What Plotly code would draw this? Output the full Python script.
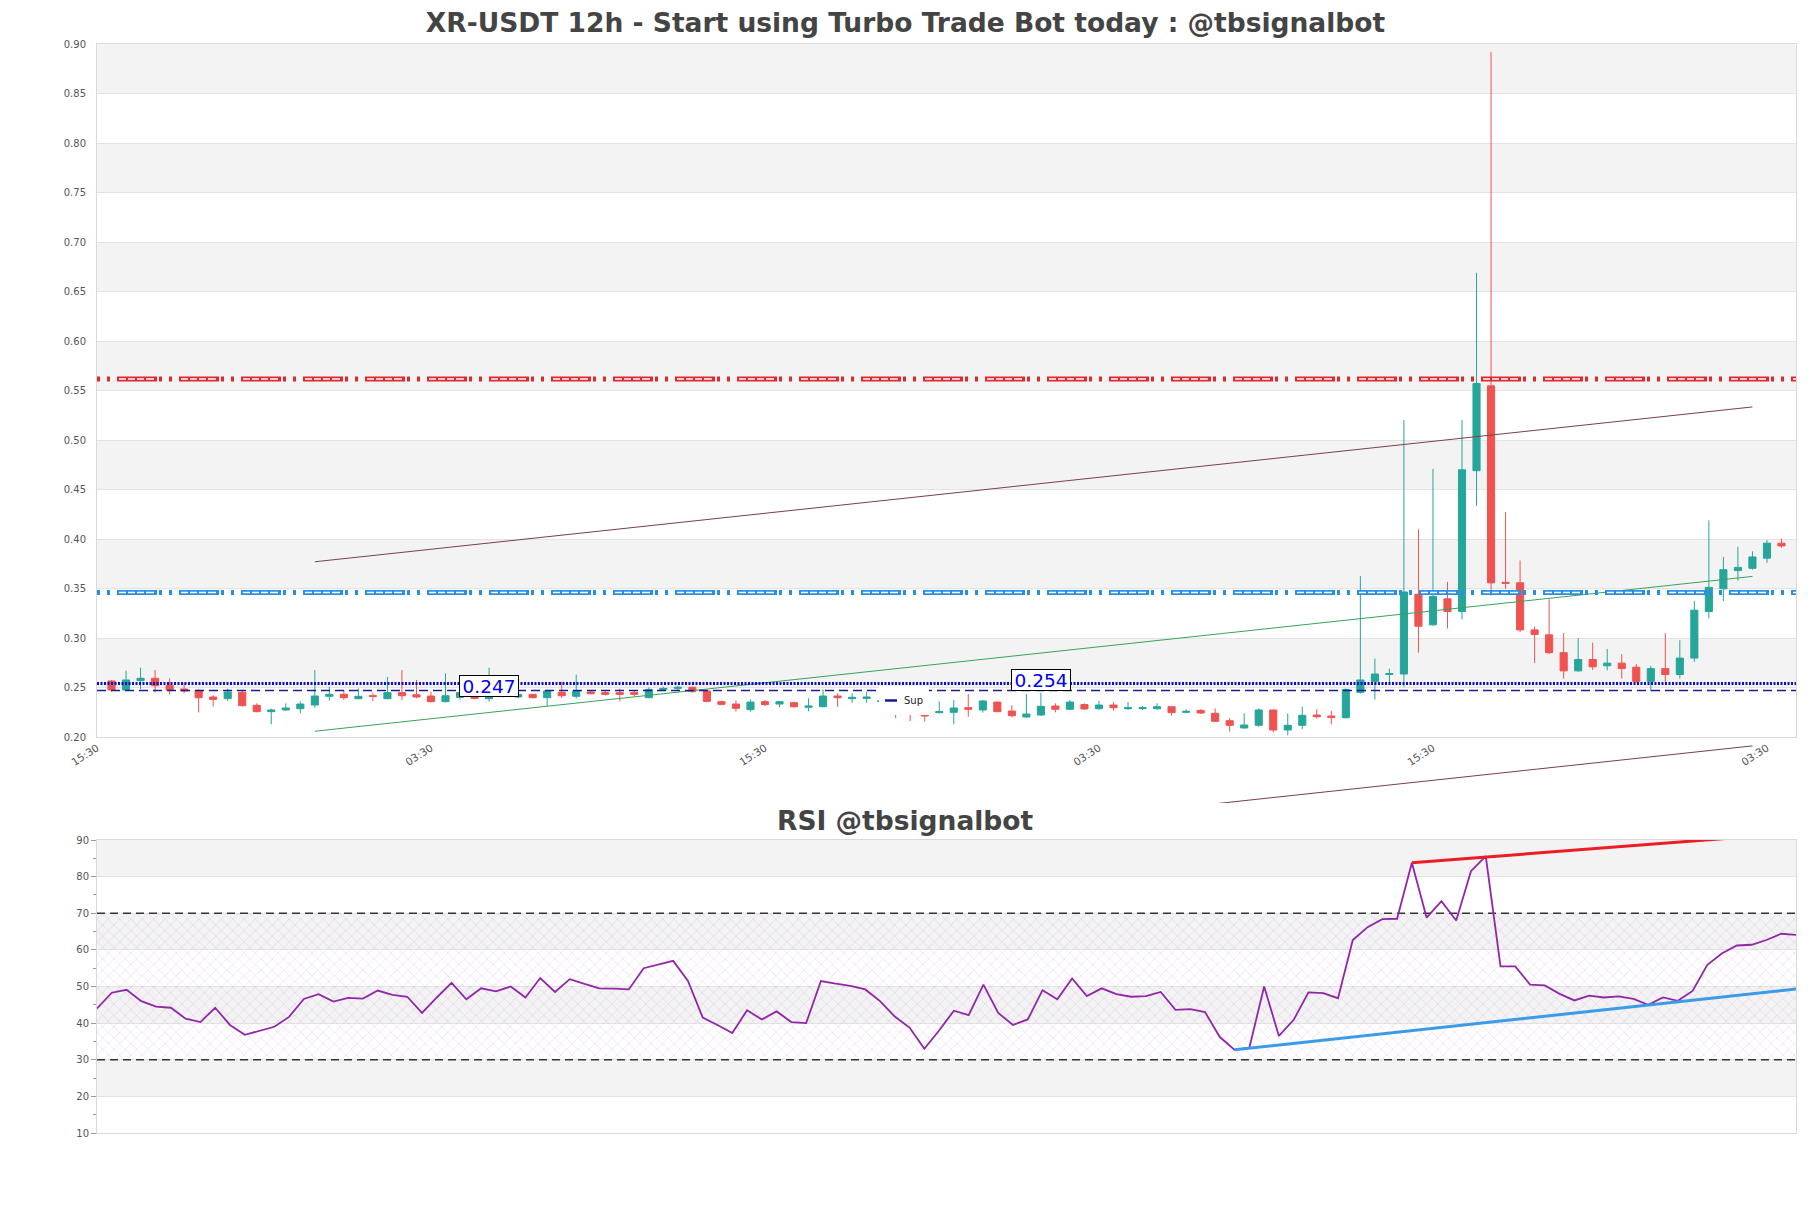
import plotly.graph_objects as go
import pandas as pd

TITLE = "XR-USDT 12h - Start using Turbo Trade Bot today : @tbsignalbot"
RSI_TITLE = "RSI @tbsignalbot"

# ---- candle times (12h candles) ----
CANDLE_START = "2024-03-02 03:30"
N_CANDLES = 116
X_RANGE = ["2024-03-01 15:30", "2024-04-29 03:30"]
X_TICKS = ["2024-03-01 15:30", "2024-03-13 03:30", "2024-03-24 15:30",
           "2024-04-05 03:30", "2024-04-16 15:30", "2024-04-28 03:30"]

OPEN = [0.2566, 0.2475, 0.2569, 0.2593, 0.2522, 0.2485, 0.2471, 0.2404, 0.2387, 0.2451,
        0.2320, 0.2256, 0.2273, 0.2286, 0.2323, 0.2411, 0.2431, 0.2387, 0.2417, 0.2387,
        0.2448, 0.2427, 0.2414, 0.2357, 0.2400, 0.2410, 0.2387, 0.2431, 0.2404, 0.2431,
        0.2397, 0.2451, 0.2411, 0.2454, 0.2448, 0.2448, 0.2448, 0.2397, 0.2478, 0.2491,
        0.2502, 0.2465, 0.2357, 0.2333, 0.2276, 0.2357, 0.2333, 0.2347, 0.2300, 0.2306,
        0.2414, 0.2387, 0.2390, 0.2360, 0.2360, 0.2330, 0.2320, 0.2246, 0.2249, 0.2296,
        0.2273, 0.2353, 0.2262, 0.2202, 0.2222, 0.2313, 0.2280, 0.2327, 0.2286, 0.2323,
        0.2286, 0.2286, 0.2286, 0.2306, 0.2249, 0.2269, 0.2239, 0.2165, 0.2091, 0.2118,
        0.2273, 0.2071, 0.2118, 0.2222, 0.2212, 0.2195, 0.2451, 0.2562, 0.2631, 0.2636,
        0.3442, 0.3133, 0.3396, 0.3267, 0.4690, 0.5547, 0.3562, 0.3557, 0.3082, 0.3032,
        0.2852, 0.2668, 0.2783, 0.2719, 0.2746, 0.2705, 0.2562, 0.2691, 0.2631, 0.2797,
        0.3267, 0.3497, 0.3681, 0.3704, 0.3806, 0.3958]
HIGH = [0.2576, 0.2670, 0.2700, 0.2677, 0.2593, 0.2549, 0.2481, 0.2421, 0.2488, 0.2464,
        0.2340, 0.2286, 0.2340, 0.2360, 0.2677, 0.2508, 0.2475, 0.2491, 0.2448, 0.2606,
        0.2677, 0.2576, 0.2458, 0.2643, 0.2490, 0.2440, 0.2700, 0.2460, 0.2448, 0.2431,
        0.2471, 0.2559, 0.2630, 0.2465, 0.2465, 0.2488, 0.2465, 0.2502, 0.2508, 0.2518,
        0.2508, 0.2475, 0.2367, 0.2367, 0.2380, 0.2374, 0.2364, 0.2357, 0.2391, 0.2481,
        0.2441, 0.2441, 0.2458, 0.2367, 0.2370, 0.2335, 0.2325, 0.2360, 0.2374, 0.2434,
        0.2374, 0.2353, 0.2320, 0.2434, 0.2448, 0.2340, 0.2374, 0.2340, 0.2364, 0.2353,
        0.2353, 0.2313, 0.2340, 0.2306, 0.2279, 0.2279, 0.2289, 0.2192, 0.2239, 0.2289,
        0.2273, 0.2239, 0.2306, 0.2279, 0.2262, 0.2491, 0.3626, 0.2792, 0.2691, 0.5201,
        0.4096, 0.4708, 0.3566, 0.5201, 0.6689, 0.8918, 0.4271, 0.3783, 0.3115, 0.3391,
        0.3050, 0.3000, 0.2953, 0.2889, 0.2838, 0.2737, 0.2719, 0.3050, 0.2977, 0.3373,
        0.4188, 0.3819, 0.3921, 0.3875, 0.3990, 0.4004]
LOW = [0.2458, 0.2468, 0.2485, 0.2451, 0.2431, 0.2441, 0.2249, 0.2306, 0.2364, 0.2306,
       0.2249, 0.2128, 0.2266, 0.2239, 0.2296, 0.2367, 0.2374, 0.2380, 0.2364, 0.2380,
       0.2374, 0.2391, 0.2350, 0.2350, 0.2380, 0.2380, 0.2357, 0.2400, 0.2390, 0.2391,
       0.2313, 0.2394, 0.2387, 0.2431, 0.2421, 0.2360, 0.2411, 0.2391, 0.2465, 0.2475,
       0.2448, 0.2350, 0.2320, 0.2256, 0.2256, 0.2313, 0.2300, 0.2296, 0.2259, 0.2300,
       0.2306, 0.2347, 0.2347, 0.2357, 0.2190, 0.2162, 0.2155, 0.2239, 0.2128, 0.2205,
       0.2246, 0.2256, 0.2199, 0.2195, 0.2212, 0.2249, 0.2273, 0.2273, 0.2273, 0.2266,
       0.2273, 0.2273, 0.2273, 0.2215, 0.2239, 0.2232, 0.2158, 0.2054, 0.2084, 0.2104,
       0.2047, 0.2017, 0.2081, 0.2185, 0.2128, 0.2185, 0.2438, 0.2378, 0.2553, 0.2507,
       0.2852, 0.3124, 0.3096, 0.3188, 0.4335, 0.3428, 0.3497, 0.3059, 0.2746, 0.2838,
       0.2590, 0.2659, 0.2677, 0.2672, 0.2590, 0.2544, 0.2461, 0.2553, 0.2590, 0.2760,
       0.3198, 0.3373, 0.3580, 0.3690, 0.3760, 0.3912]
CLOSE = [0.2475, 0.2576, 0.2593, 0.2518, 0.2475, 0.2465, 0.2397, 0.2380, 0.2454, 0.2317,
         0.2256, 0.2273, 0.2293, 0.2333, 0.2414, 0.2431, 0.2397, 0.2411, 0.2411, 0.2448,
         0.2417, 0.2404, 0.2357, 0.2417, 0.2450, 0.2390, 0.2404, 0.2417, 0.2431, 0.2397,
         0.2465, 0.2417, 0.2465, 0.2437, 0.2431, 0.2431, 0.2431, 0.2481, 0.2491, 0.2502,
         0.2458, 0.2360, 0.2330, 0.2290, 0.2353, 0.2327, 0.2357, 0.2306, 0.2313, 0.2414,
         0.2397, 0.2401, 0.2404, 0.2364, 0.2345, 0.2273, 0.2212, 0.2256, 0.2293, 0.2280,
         0.2364, 0.2256, 0.2215, 0.2232, 0.2310, 0.2280, 0.2353, 0.2283, 0.2323, 0.2296,
         0.2296, 0.2296, 0.2306, 0.2246, 0.2259, 0.2242, 0.2158, 0.2118, 0.2121, 0.2273,
         0.2071, 0.2118, 0.2219, 0.2205, 0.2199, 0.2481, 0.2576, 0.2636, 0.2641, 0.3465,
         0.3119, 0.3419, 0.3267, 0.4699, 0.5570, 0.3557, 0.3552, 0.3082, 0.3036, 0.2852,
         0.2668, 0.2783, 0.2709, 0.2746, 0.2691, 0.2562, 0.2691, 0.2631, 0.2797, 0.3281,
         0.3511, 0.3690, 0.3713, 0.3819, 0.3958, 0.3930]

RSI = [44.0, 48.3, 49.1, 46.0, 44.5, 44.2, 41.2, 40.3, 44.2, 39.5,
       36.8, 37.9, 39.0, 41.7, 46.6, 47.9, 45.9, 46.9, 46.7, 48.9,
       47.7, 47.2, 42.8, 47.0, 51.0, 46.5, 49.5, 48.7, 50.0, 47.0,
       52.3, 48.5, 52.0, 50.7, 49.5, 49.4, 49.2, 55.0, 56.0, 57.0,
       51.5, 41.5, 39.5, 37.3, 43.5, 41.0, 43.2, 40.3, 40.0, 51.5,
       50.8, 50.2, 49.2, 46.0, 41.8, 38.8, 33.0, 38.0, 43.4, 42.2,
       50.5, 42.8, 39.5, 41.0, 49.0, 46.5, 52.2, 47.4, 49.5, 47.9,
       47.2, 47.4, 48.5, 43.6, 43.8, 43.0, 36.2, 32.7, 33.3, 50.0,
       36.5, 40.9, 48.4, 48.2, 46.8, 62.7, 66.2, 68.4, 68.5, 83.8,
       68.8, 73.3, 68.0, 81.5, 85.6, 55.5, 55.5, 50.5, 50.3, 48.0,
       46.2, 47.5, 47.0, 47.3, 46.6, 45.0, 47.0, 46.1, 48.8, 55.9,
       59.1, 61.2, 61.4, 62.7, 64.4, 64.1]

# price levels
RESISTANCE = 0.5616
SUPPORT_HI = 0.346
LEVEL_DOT = 0.254
LEVEL_SUP = 0.247
LABEL_IDX = [26, 64]          # candle index of the level labels

# regression channel (candle index, mid value) + half width
CH_IDX = [14, 113]
CH_MID = [0.2058, 0.3622]
CH_HALF = 0.1712

# RSI trend lines (RSI index, value)
RSI_SUP_IDX = [77, 115]
RSI_SUP_VAL = [32.7, 49.3]
RSI_RES_IDX = [89, 115]
RSI_RES_VAL = [83.8, 91.9]
RSI_BOUNDS = [30, 70]

MAIN_TICKS = [0.20, 0.25, 0.30, 0.35, 0.40, 0.45, 0.50, 0.55, 0.60, 0.65, 0.70, 0.75, 0.80, 0.85, 0.90]
RSI_TICKS = [10, 20, 30, 40, 50, 60, 70, 80, 90]

times = pd.date_range(CANDLE_START, periods=N_CANDLES, freq="12h")

FONT = "DejaVu Sans"
UP = "#26a69a"
DN = "#ef5350"
BAND = "#f3f3f3"
GRID = "#e3e3e3"
AXLINE = "#d9d9d9"
TICKC = "#555555"

# layout geometry
MAIN_DOM = [0.36364, 1.0]
RSI_DOM = [0.0, 0.26905]
GAP_DOM = [0.30303, 0.36364]
main_rng = [MAIN_TICKS[0], MAIN_TICKS[-1]]
scale = (main_rng[1] - main_rng[0]) / (MAIN_DOM[1] - MAIN_DOM[0])
gap_rng = [main_rng[0] - (GAP_DOM[1] - GAP_DOM[0]) * scale, main_rng[0]]

fig = go.Figure()

fig.add_trace(go.Candlestick(
    x=times, open=OPEN, high=HIGH, low=LOW, close=CLOSE,
    increasing=dict(line=dict(color=UP, width=1), fillcolor=UP),
    decreasing=dict(line=dict(color=DN, width=1), fillcolor=DN),
    whiskerwidth=0, showlegend=False, xaxis="x", yaxis="y"))

# channel lines
ch_x = [times[i] for i in CH_IDX]
fig.add_trace(go.Scatter(x=ch_x, y=[v + CH_HALF for v in CH_MID], mode="lines",
                         line=dict(color="#7b3f4a", width=1), showlegend=False))
fig.add_trace(go.Scatter(x=ch_x, y=CH_MID, mode="lines",
                         line=dict(color="#3aa35a", width=1), showlegend=False))
fig.add_trace(go.Scatter(x=ch_x, y=[v - CH_HALF for v in CH_MID], mode="lines",
                         line=dict(color="#7b3f4a", width=1), showlegend=False,
                         xaxis="x3", yaxis="y3"))

# horizontal levels
def hline(y, color, width, dash, name=None, legend=False):
    fig.add_trace(go.Scatter(x=X_RANGE, y=[y, y], mode="lines",
                             line=dict(color=color, width=width, dash=dash),
                             name=name, showlegend=legend, hoverinfo="skip"))

OUTER = "3px,7px,3px,7px,40px,2px"                     # period 62
INNER = "0px,22px,7px,2px,7px,2px,7px,2px,8px,5px"     # period 62
hline(RESISTANCE, "#e0282e", 5, OUTER)
hline(RESISTANCE, "white", 1.5, INNER)
hline(SUPPORT_HI, "#2a8fe0", 5, OUTER)
hline(SUPPORT_HI, "white", 1.5, INNER)
hline(LEVEL_DOT, "#0a0ad0", 3, "2px,1.5px")
hline(LEVEL_SUP, "#1a1a9a", 1.5, "9px,5px")
# legend-only entry
fig.add_trace(go.Scatter(x=[None], y=[None], mode="lines", name="Sup",
                         line=dict(color="#1a1a9a", width=2.5, dash="0px,16px,12px,100px"),
                         showlegend=True))

# RSI
fig.add_trace(go.Scatter(x=[times[0], times[-1]], y=[RSI_BOUNDS[1]] * 2, mode="lines",
                         line=dict(color="#333", width=1.3, dash="8px,5px"),
                         showlegend=False, xaxis="x2", yaxis="y2"))
fig.add_trace(go.Scatter(x=[times[0], times[-1]], y=[RSI_BOUNDS[0]] * 2, mode="lines",
                         line=dict(color="#333", width=1.3, dash="8px,5px"),
                         fill="tonexty", fillcolor="rgba(215,180,235,0.16)",
                         fillpattern=dict(shape="x", fgcolor="rgba(170,110,200,0.75)",
                                          bgcolor="rgba(0,0,0,0)", size=8, solidity=0.1),
                         showlegend=False, xaxis="x2", yaxis="y2"))
fig.add_trace(go.Scatter(x=times, y=RSI, mode="lines",
                         line=dict(color="#9127a8", width=1.8),
                         showlegend=False, xaxis="x2", yaxis="y2"))
fig.add_trace(go.Scatter(x=[times[i] for i in RSI_SUP_IDX], y=RSI_SUP_VAL, mode="lines",
                         line=dict(color="#3c9be8", width=3), showlegend=False,
                         xaxis="x2", yaxis="y2"))
fig.add_trace(go.Scatter(x=[times[i] for i in RSI_RES_IDX], y=RSI_RES_VAL, mode="lines",
                         line=dict(color="#ee1c24", width=3), showlegend=False,
                         xaxis="x2", yaxis="y2"))

# bands
shapes = []
for i in range(1, len(MAIN_TICKS) - 1, 2):
    shapes.append(dict(type="rect", xref="x domain", yref="y", x0=0, x1=1,
                       y0=MAIN_TICKS[i], y1=MAIN_TICKS[i + 1], fillcolor=BAND,
                       line=dict(width=0), layer="below"))
for i in range(1, len(RSI_TICKS) - 1, 2):
    shapes.append(dict(type="rect", xref="x2 domain", yref="y2", x0=0, x1=1,
                       y0=RSI_TICKS[i], y1=RSI_TICKS[i + 1], fillcolor=BAND,
                       line=dict(width=0), layer="below"))

annotations = []
for idx, lvl in zip(LABEL_IDX, [LEVEL_SUP, LEVEL_DOT]):
    annotations.append(dict(x=times[idx], y=lvl, xref="x", yref="y", text=f"{lvl:.3f}",
                            showarrow=False, yshift=4, width=58, height=20,
                            font=dict(family=FONT, size=18.5, color="#0000ee"),
                            bgcolor="white", bordercolor="black", borderwidth=1, borderpad=0))
annotations.append(dict(x=(1811 / 2 - 97) / 1699, y=0.2874, xref="paper", yref="paper",
                        text=RSI_TITLE, showarrow=False, yanchor="middle",
                        font=dict(family=FONT, size=26.5, color="#444444", weight="bold")))

fig.update_layout(
    width=1811, height=1208,
    margin=dict(l=97, r=15, t=44, b=75),
    paper_bgcolor="white", plot_bgcolor="white",
    font=dict(family=FONT, size=10, color=TICKC),
    title=dict(text=TITLE, x=0.5, xanchor="center", y=1 - 23 / 1208, yanchor="middle",
               font=dict(family=FONT, size=26.5, color="#444444", weight="bold")),
    shapes=shapes, annotations=annotations,
    legend=dict(x=(879 - 97) / 1699, y=(1133 - 686) / 1089, xanchor="left", yanchor="top",
                bgcolor="white", indentation=-15,
                font=dict(family=FONT, size=10, color="#222"), borderwidth=0,
                tracegroupgap=0, itemwidth=30),
    xaxis=dict(domain=[0, 1], anchor="y", type="date", range=X_RANGE,
               tickvals=X_TICKS, tickformat="%H:%M", tickangle=-33,
               showgrid=False, showline=True, mirror=True, linecolor=AXLINE,
               ticks="", rangeslider=dict(visible=False),
               tickfont=dict(family=FONT, size=10.5, color=TICKC)),
    yaxis=dict(domain=MAIN_DOM, anchor="x", range=main_rng, tickvals=MAIN_TICKS,
               tickformat=".2f", showgrid=True, gridcolor=GRID, zeroline=False,
               showline=True, mirror=True, linecolor=AXLINE, ticks="",
               ticklabelstandoff=8, tickfont=dict(family=FONT, size=10, color=TICKC)),
    xaxis2=dict(domain=[0, 1], anchor="y2", type="date",
                range=[times[0], times[-1]], showticklabels=False, showgrid=False,
                showline=True, mirror=True, linecolor=AXLINE, ticks=""),
    yaxis2=dict(domain=RSI_DOM, anchor="x2", range=[RSI_TICKS[0], RSI_TICKS[-1]],
                tickvals=RSI_TICKS, showgrid=True, gridcolor=GRID, zeroline=False,
                showline=True, mirror=True, linecolor=AXLINE,
                ticks="outside", ticklen=5, tickcolor="#999",
                minor=dict(dtick=5, tick0=5, ticks="outside", ticklen=3, tickcolor="#999",
                           showgrid=False),
                tickfont=dict(family=FONT, size=10, color=TICKC)),
    xaxis3=dict(domain=[0, 1], anchor="y3", type="date", matches="x", visible=False),
    yaxis3=dict(domain=GAP_DOM, anchor="x3", range=gap_rng, visible=False),
)

fig.write_html("out.html")
